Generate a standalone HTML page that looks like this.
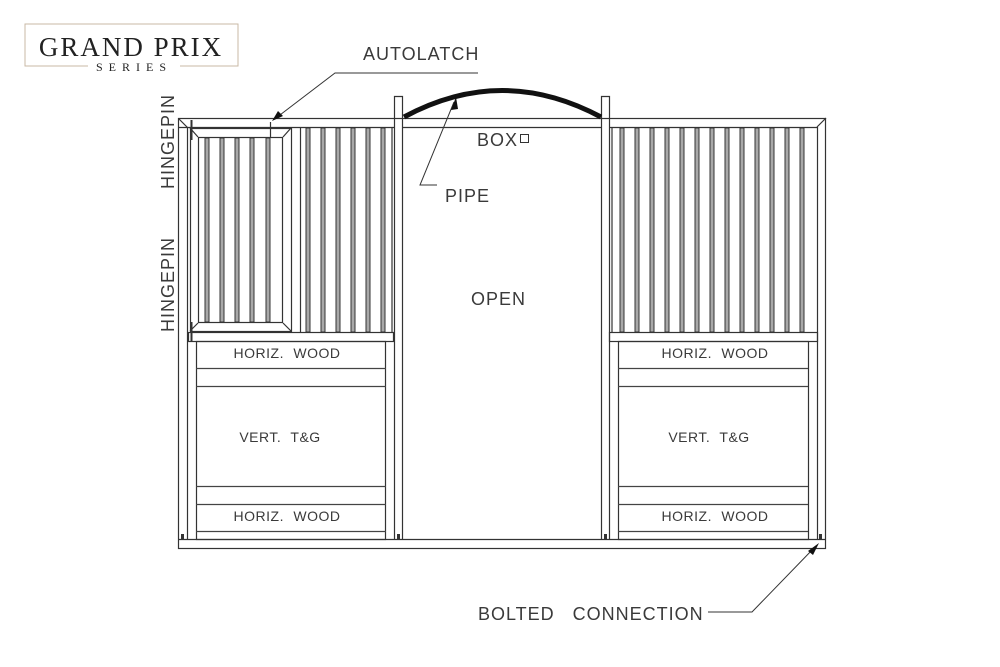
<!DOCTYPE html>
<html><head><meta charset="utf-8"><style>
html,body{margin:0;padding:0;background:#fff;}
svg{display:block;}
text{font-family:"Liberation Sans",sans-serif;fill:#3a3a3a;}
</style></head><body>
<svg width="1000" height="667" viewBox="0 0 1000 667" xmlns="http://www.w3.org/2000/svg">
<path d="M88 66 H25 V24 H238 V66 H180" fill="none" stroke="#c9b9a6" stroke-width="1"/>
<text x="131" y="56" text-anchor="middle" style="font-family:'Liberation Serif',serif;font-size:27px;letter-spacing:2px;fill:#222">GRAND PRIX</text>
<text x="134" y="71" text-anchor="middle" style="font-family:'Liberation Serif',serif;font-size:12px;letter-spacing:6px;fill:#222">SERIES</text>

<g fill="none" stroke="#333" stroke-width="1.2">
<rect x="178.5" y="118.5" width="647" height="430"/>
<line x1="178" y1="127.5" x2="394" y2="127.5"/>
<line x1="403" y1="127.5" x2="601" y2="127.5"/>
<line x1="609" y1="127.5" x2="817" y2="127.5"/>
<line x1="178" y1="539.5" x2="826" y2="539.5"/>
<line x1="187.5" y1="127" x2="187.5" y2="540"/>
<line x1="817.5" y1="127" x2="817.5" y2="540"/>
<line x1="817" y1="127" x2="826" y2="118"/>
<path d="M394.5 540 V96.5 H402.5 V540"/>
<path d="M601.5 540 V96.5 H609.5 V540"/>
<rect x="188.5" y="332.5" width="205" height="9"/>
<rect x="609.5" y="332.5" width="208" height="9"/>
<rect x="190.5" y="128.5" width="101" height="203"/>
<rect x="198.5" y="137.5" width="84" height="185"/>
<line x1="190" y1="128" x2="198" y2="137"/><line x1="291" y1="128" x2="283" y2="137"/>
<line x1="190" y1="331" x2="198" y2="323"/><line x1="291" y1="331" x2="283" y2="323"/>
<line x1="179" y1="119" x2="188" y2="128"/>
<line x1="300.5" y1="128" x2="300.5" y2="332"/>
<line x1="392" y1="128" x2="392" y2="332"/>
<line x1="612" y1="128" x2="612" y2="332"/>
<line x1="191.5" y1="120" x2="191.5" y2="140" stroke-width="2"/>
<line x1="191.5" y1="322" x2="191.5" y2="342" stroke-width="2"/>
<line x1="270.5" y1="122" x2="270.5" y2="137"/>
<rect x="196.5" y="341.5" width="189" height="198"/>
<rect x="618.5" y="341.5" width="190" height="198"/>
<g stroke="#444">
<line x1="196" y1="368.5" x2="386" y2="368.5"/><line x1="196" y1="386.5" x2="386" y2="386.5"/>
<line x1="196" y1="486.5" x2="386" y2="486.5"/><line x1="196" y1="504.5" x2="386" y2="504.5"/>
<line x1="196" y1="531.5" x2="386" y2="531.5"/>
<line x1="618" y1="368.5" x2="808" y2="368.5"/><line x1="618" y1="386.5" x2="808" y2="386.5"/>
<line x1="618" y1="486.5" x2="808" y2="486.5"/><line x1="618" y1="504.5" x2="808" y2="504.5"/>
<line x1="618" y1="531.5" x2="808" y2="531.5"/>
</g>
</g>

<g fill="#a8a8a8" stroke="#333" stroke-width="1">
<rect x="205" y="138" width="4" height="184"/><rect x="220" y="138" width="4" height="184"/><rect x="235" y="138" width="4" height="184"/><rect x="250" y="138" width="4" height="184"/><rect x="266" y="138" width="4" height="184"/>
<rect x="306" y="128" width="4" height="204"/><rect x="321" y="128" width="4" height="204"/><rect x="336" y="128" width="4" height="204"/><rect x="351" y="128" width="4" height="204"/><rect x="366" y="128" width="4" height="204"/><rect x="381" y="128" width="4" height="204"/>
<rect x="620" y="128" width="4" height="204"/><rect x="635" y="128" width="4" height="204"/><rect x="650" y="128" width="4" height="204"/><rect x="665" y="128" width="4" height="204"/><rect x="680" y="128" width="4" height="204"/><rect x="695" y="128" width="4" height="204"/><rect x="710" y="128" width="4" height="204"/><rect x="725" y="128" width="4" height="204"/><rect x="740" y="128" width="4" height="204"/><rect x="755" y="128" width="4" height="204"/><rect x="770" y="128" width="4" height="204"/><rect x="785" y="128" width="4" height="204"/><rect x="800" y="128" width="4" height="204"/>
</g>

<g fill="#333"><rect x="181" y="534" width="3" height="5"/><rect x="397" y="534" width="3" height="5"/><rect x="604" y="534" width="3" height="5"/><rect x="819" y="534" width="3" height="5"/></g>

<path d="M404 117 Q502 64 601 117" fill="none" stroke="#111" stroke-width="5"/>

<g fill="none" stroke="#333" stroke-width="1">
<polyline points="478,73 335,73 276,118"/>
<polyline points="437,185 420,185 454,102"/>
<polyline points="708,612 752,612 814,548"/>
</g>
<g fill="#111">
<polygon points="272,121 278,111 283,116"/>
<polygon points="456,97 451,110 458,109"/>
<polygon points="819,543 808,551 813,555"/>
</g>
<rect x="520.5" y="134.5" width="8" height="8" fill="none" stroke="#333"/>

<g style="font-size:18px;letter-spacing:1px">
<text x="363" y="60">AUTOLATCH</text>
<text x="477" y="146">BOX</text>
<text x="445" y="202">PIPE</text>
<text x="471" y="305">OPEN</text>
<text x="478" y="620" style="letter-spacing:1px;word-spacing:12px">BOLTED CONNECTION</text>
<text transform="translate(174,189) rotate(-90)">HINGEPIN</text>
<text transform="translate(174,332) rotate(-90)">HINGEPIN</text>
</g>
<g style="font-size:14px;letter-spacing:0.5px;word-spacing:5px" text-anchor="middle">
<text x="287" y="358">HORIZ. WOOD</text>
<text x="280" y="442">VERT. T&amp;G</text>
<text x="287" y="521">HORIZ. WOOD</text>
<text x="715" y="358">HORIZ. WOOD</text>
<text x="709" y="442">VERT. T&amp;G</text>
<text x="715" y="521">HORIZ. WOOD</text>
</g>
</svg>
</body></html>
